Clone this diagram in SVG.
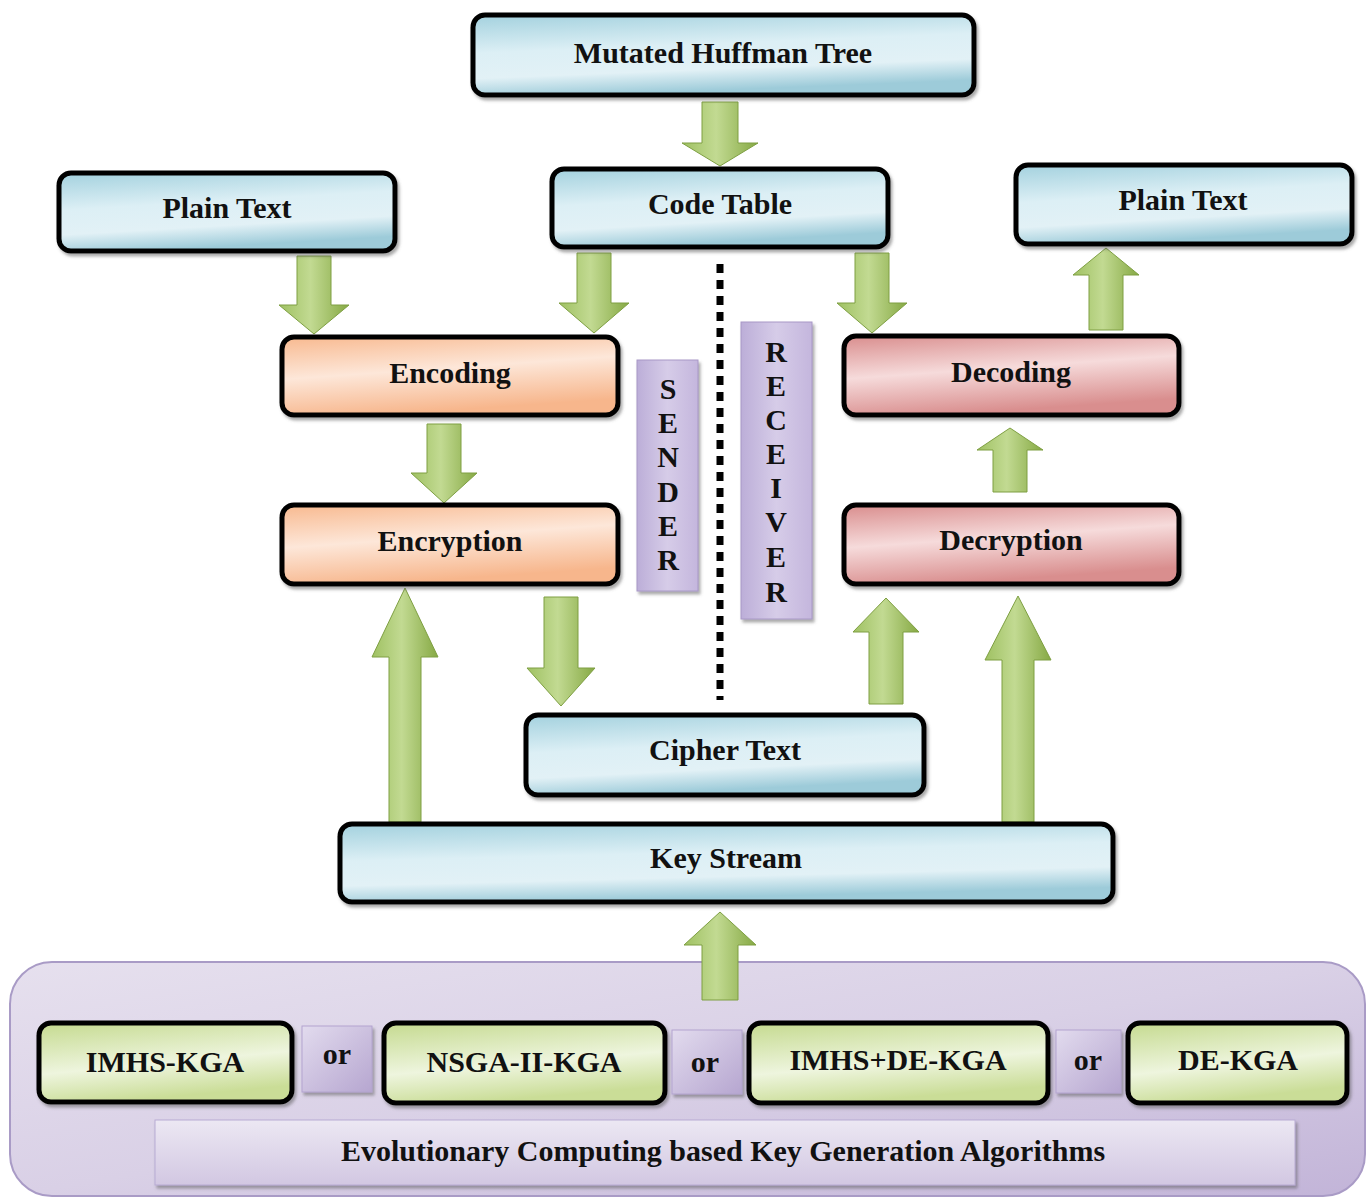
<svg xmlns="http://www.w3.org/2000/svg" width="1370" height="1200" viewBox="0 0 1370 1200">
<defs>
<linearGradient id="gBlue" x1="0" y1="0" x2="0.25" y2="1">
<stop offset="0" stop-color="#a3d1de"/><stop offset="0.45" stop-color="#dceff5"/><stop offset="0.75" stop-color="#e2f1f6"/><stop offset="1" stop-color="#9dcbd9"/>
</linearGradient>
<linearGradient id="gOrange" x1="0" y1="0" x2="0.3" y2="1">
<stop offset="0" stop-color="#f8b98f"/><stop offset="0.5" stop-color="#fde7d9"/><stop offset="1" stop-color="#f7b68c"/>
</linearGradient>
<linearGradient id="gPink" x1="0" y1="0" x2="0.3" y2="1">
<stop offset="0" stop-color="#d98d8d"/><stop offset="0.5" stop-color="#f6dbdb"/><stop offset="1" stop-color="#d98e8e"/>
</linearGradient>
<linearGradient id="gGreenBox" x1="0" y1="0" x2="0.3" y2="1">
<stop offset="0" stop-color="#c5da8f"/><stop offset="0.6" stop-color="#eef5de"/><stop offset="1" stop-color="#cadd97"/>
</linearGradient>
<linearGradient id="gPurple" x1="0" y1="0" x2="1" y2="1">
<stop offset="0" stop-color="#e6e0ee"/><stop offset="0.5" stop-color="#d9d0e6"/><stop offset="1" stop-color="#c2b4d8"/>
</linearGradient>
<linearGradient id="gLabel" x1="0" y1="0" x2="1" y2="0">
<stop offset="0" stop-color="#bcaed8"/><stop offset="0.5" stop-color="#d6cce8"/><stop offset="1" stop-color="#c4b6dd"/>
</linearGradient>
<linearGradient id="gOr" x1="0" y1="0" x2="1" y2="1">
<stop offset="0" stop-color="#e2dbee"/><stop offset="1" stop-color="#b6a6d0"/>
</linearGradient>
<linearGradient id="gEvo" x1="0" y1="0" x2="0" y2="1">
<stop offset="0" stop-color="#ece8f3"/><stop offset="1" stop-color="#d2c7e2"/>
</linearGradient>
<linearGradient id="gArrow" x1="0" y1="0" x2="1" y2="0">
<stop offset="0" stop-color="#9fc162"/><stop offset="0.45" stop-color="#c2da92"/><stop offset="1" stop-color="#86a944"/>
</linearGradient>
<filter id="sh" x="-10%" y="-10%" width="120%" height="130%">
<feDropShadow dx="2" dy="3" stdDeviation="1.5" flood-color="#555" flood-opacity="0.5"/>
</filter>
</defs>
<style>
.box{stroke:#000;stroke-width:5;filter:url(#sh)}
.blue{fill:url(#gBlue)}
.orange{fill:url(#gOrange)}
.pink{fill:url(#gPink)}
.green{fill:url(#gGreenBox)}
.t{font-family:"Liberation Serif","Times New Roman",serif;font-weight:bold;font-size:30px;fill:#111;text-anchor:middle}
.arr{fill:url(#gArrow);stroke:#7e9f42;stroke-width:1}
.lab{fill:url(#gLabel);stroke:#a898c6;stroke-width:1;filter:url(#sh)}
.or{fill:url(#gOr);stroke:#b3a4cf;stroke-width:1}
</style>
<rect width="1370" height="1200" fill="#fff"/>

<g id="container">
<rect x="10" y="962" width="1355" height="234" rx="42" fill="url(#gPurple)" stroke="#a99bc6" stroke-width="2"/>
</g>

<g id="connectors">
<path class="arr" d="M702,102 L738,102 L738,143 L758,143 L720,166 L682,143 L702,143 Z"/>
<path class="arr" d="M297,256 L331,256 L331,305 L349,305 L314,334 L279,305 L297,305 Z"/>
<path class="arr" d="M577,253 L611,253 L611,303 L629,303 L594,333 L559,303 L577,303 Z"/>
<path class="arr" d="M855,253 L889,253 L889,303 L907,303 L872,333 L837,303 L855,303 Z"/>
<path class="arr" d="M1089,330 L1123,330 L1123,275 L1139,275 L1106,248 L1073,275 L1089,275 Z"/>
<path class="arr" d="M427,424 L461,424 L461,473 L477,473 L444,503 L411,473 L427,473 Z"/>
<path class="arr" d="M993,492 L1027,492 L1027,450 L1043,450 L1010,428 L977,450 L993,450 Z"/>
<path class="arr" d="M544,597 L578,597 L578,668 L595,668 L561,706 L527,668 L544,668 Z"/>
<path class="arr" d="M869,704 L903,704 L903,632 L919,632 L886,598 L853,632 L869,632 Z"/>
<path class="arr" d="M389,822 L421,822 L421,657 L438,657 L405,588 L372,657 L389,657 Z"/>
<path class="arr" d="M1002,822 L1034,822 L1034,660 L1051,660 L1018,596 L985,660 L1002,660 Z"/>
<path class="arr" d="M702,1000 L738,1000 L738,945 L756,945 L720,912 L684,945 L702,945 Z"/>
<line x1="720" y1="264" x2="720" y2="700" stroke="#000" stroke-width="7" stroke-dasharray="9,7"/>
</g>

<g id="mutated-huffman-tree">
<rect class="box blue" x="473" y="15" width="501" height="80" rx="12"/>
<text class="t" x="723" y="63">Mutated Huffman Tree</text>
</g>
<g id="code-table">
<rect class="box blue" x="552" y="169" width="336" height="78" rx="12"/>
<text class="t" x="720" y="214">Code Table</text>
</g>
<g id="plain-text-left">
<rect class="box blue" x="59" y="173" width="336" height="78" rx="12"/>
<text class="t" x="227" y="218">Plain Text</text>
</g>
<g id="plain-text-right">
<rect class="box blue" x="1016" y="165" width="336" height="79" rx="12"/>
<text class="t" x="1183" y="210">Plain Text</text>
</g>
<g id="encoding">
<rect class="box orange" x="282" y="337" width="336" height="78" rx="12"/>
<text class="t" x="450" y="383">Encoding</text>
</g>
<g id="encryption">
<rect class="box orange" x="282" y="505" width="336" height="79" rx="12"/>
<text class="t" x="450" y="551">Encryption</text>
</g>
<g id="decoding">
<rect class="box pink" x="844" y="336" width="335" height="79" rx="12"/>
<text class="t" x="1011" y="382">Decoding</text>
</g>
<g id="decryption">
<rect class="box pink" x="844" y="505" width="335" height="79" rx="12"/>
<text class="t" x="1011" y="550">Decryption</text>
</g>
<g id="cipher-text">
<rect class="box blue" x="526" y="715" width="398" height="80" rx="12"/>
<text class="t" x="725" y="760">Cipher Text</text>
</g>
<g id="key-stream">
<rect class="box blue" x="340" y="824" width="773" height="78" rx="12"/>
<text class="t" x="726" y="868">Key Stream</text>
</g>

<g id="sender">
<rect class="lab" x="637" y="360" width="61" height="231"/>
<text class="t" x="668" y="399">S</text>
<text class="t" x="668" y="433">E</text>
<text class="t" x="668" y="467">N</text>
<text class="t" x="668" y="502">D</text>
<text class="t" x="668" y="536">E</text>
<text class="t" x="668" y="570">R</text>
</g>
<g id="receiver">
<rect class="lab" x="741" y="322" width="71" height="297"/>
<text class="t" x="776" y="362">R</text>
<text class="t" x="776" y="396">E</text>
<text class="t" x="776" y="430">C</text>
<text class="t" x="776" y="464">E</text>
<text class="t" x="776" y="498">I</text>
<text class="t" x="776" y="532">V</text>
<text class="t" x="776" y="567">E</text>
<text class="t" x="776" y="602">R</text>
</g>

<g id="imhs-kga">
<rect class="box green" x="39" y="1023" width="253" height="79" rx="12"/>
<text class="t" x="165" y="1072">IMHS-KGA</text>
</g>
<g id="or-1">
<rect class="or" x="302" y="1026" width="70" height="66" filter="url(#sh)"/>
<text class="t" x="337" y="1064">or</text>
</g>
<g id="nsga-ii-kga">
<rect class="box green" x="384" y="1023" width="281" height="80" rx="12"/>
<text class="t" x="524" y="1072">NSGA-II-KGA</text>
</g>
<g id="or-2">
<rect class="or" x="672" y="1030" width="70" height="64" filter="url(#sh)"/>
<text class="t" x="705" y="1072">or</text>
</g>
<g id="imhs-de-kga">
<rect class="box green" x="749" y="1023" width="299" height="80" rx="12"/>
<text class="t" x="898" y="1070">IMHS+DE-KGA</text>
</g>
<g id="or-3">
<rect class="or" x="1056" y="1030" width="65" height="63" filter="url(#sh)"/>
<text class="t" x="1088" y="1070">or</text>
</g>
<g id="de-kga">
<rect class="box green" x="1128" y="1023" width="219" height="80" rx="12"/>
<text class="t" x="1238" y="1070">DE-KGA</text>
</g>
<g id="evolutionary-label">
<rect x="155" y="1120" width="1140" height="65" fill="url(#gEvo)" stroke="#b8abd3" stroke-width="1" filter="url(#sh)"/>
<text class="t" x="723" y="1161">Evolutionary Computing based Key Generation Algorithms</text>
</g>
</svg>
